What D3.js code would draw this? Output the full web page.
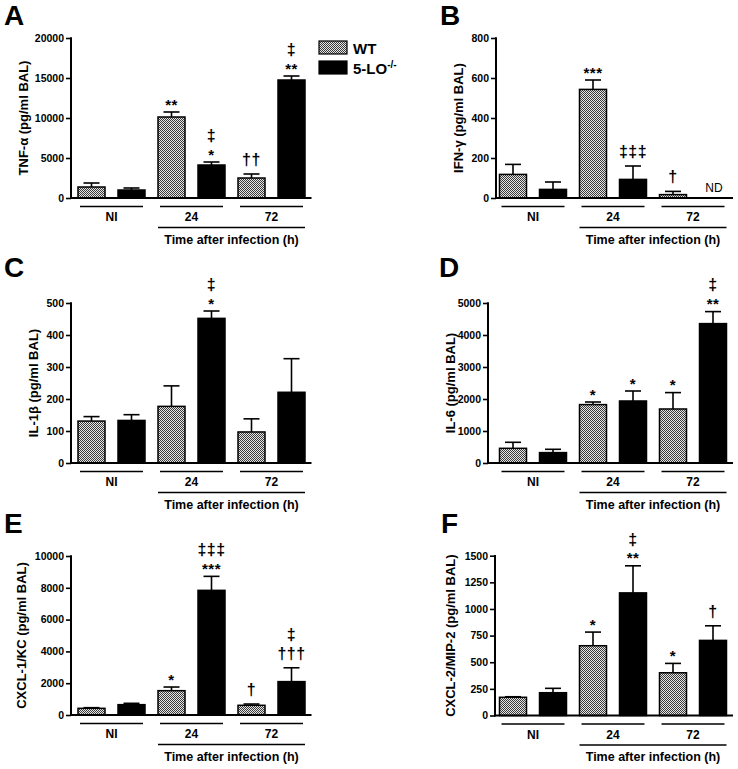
<!DOCTYPE html>
<html><head><meta charset="utf-8">
<script src="https://cdn.jsdelivr.net/npm/d3@7"></script>
<style>body{margin:0;background:#fff}svg{display:block}</style>
</head><body>
<script>
// ---------- data ----------
const groups = ["NI", "24", "72"];
const series = ["WT", "5-LO-/-"];
const xTitle = "Time after infection (h)";
// bar order: WT NI, KO NI, WT 24, KO 24, WT 72, KO 72
const tnfMean = [1375, 1000, 10125, 4125, 2500, 14750];
const tnfErr  = [500, 250, 625, 375, 500, 500];
const tnfMarks = [[], [], ["**"], ["*", "‡"], ["††"], ["**", "‡"]];
const tnfTicks = [0, 5000, 10000, 15000, 20000];

const ifnMean = [118, 43, 543, 93, 17, null];
const ifnErr  = [50, 37, 47, 67, 16, null];
const ifnMarks = [[], [], ["***"], ["‡‡‡"], ["†"], []];
const ifnTicks = [0, 200, 400, 600, 800];

const il1Mean = [131, 133, 177, 452, 97, 221];
const il1Err  = [14, 18, 64, 23, 41, 105];
const il1Marks = [[], [], [], ["*", "‡"], [], []];
const il1Ticks = [0, 100, 200, 300, 400, 500];

const il6Mean = [459, 325, 1825, 1938, 1688, 4356];
const il6Err  = [188, 103, 81, 312, 512, 375];
const il6Marks = [[], [], ["*"], ["*"], ["*"], ["**", "‡"]];
const il6Ticks = [0, 1000, 2000, 3000, 4000, 5000];

const kcMean = [420, 650, 1530, 7840, 610, 2100];
const kcErr  = [40, 85, 230, 880, 80, 870];
const kcMarks = [[], [], ["*"], ["***", "‡‡‡"], ["†"], ["†††", "‡"]];
const kcTicks = [0, 2000, 4000, 6000, 8000, 10000];

const mipMean = [171, 214, 655, 1151, 401, 705];
const mipErr  = [5, 41, 128, 254, 88, 137];
const mipMarks = [[], [], ["*"], ["**", "‡"], ["*"], ["†"]];
const mipTicks = [0, 250, 500, 750, 1000, 1250, 1500];

// ---------- layout ----------
const panels = [
  {tag:"A", yLab:"TNF-α (pg/ml BAL)", mean:tnfMean, err:tnfErr, marks:tnfMarks, ticks:tnfTicks,
   axisX:71, r0:71.5, y0:198, yTop:38, tagX:4, tagY:25, yLabX:23},
  {tag:"B", yLab:"IFN-γ (pg/ml BAL)", mean:ifnMean, err:ifnErr, marks:ifnMarks, ticks:ifnTicks,
   axisX:496, r0:493, y0:198, yTop:38, tagX:440, tagY:25, yLabX:458, nd:5},
  {tag:"C", yLab:"IL-1β (pg/ml BAL)", mean:il1Mean, err:il1Err, marks:il1Marks, ticks:il1Ticks,
   axisX:71, r0:71.5, y0:463, yTop:303, tagX:4, tagY:277, yLabX:33},
  {tag:"D", yLab:"IL-6 (pg/ml BAL)", mean:il6Mean, err:il6Err, marks:il6Marks, ticks:il6Ticks,
   axisX:488, r0:493, y0:463, yTop:303, tagX:439, tagY:277, yLabX:450},
  {tag:"E", yLab:"CXCL-1/KC (pg/ml BAL)", mean:kcMean, err:kcErr, marks:kcMarks, ticks:kcTicks,
   axisX:71, r0:71.5, y0:715, yTop:556, tagX:4, tagY:533, yLabX:21},
  {tag:"F", yLab:"CXCL-2/MIP-2 (pg/ml BAL)", mean:mipMean, err:mipErr, marks:mipMarks, ticks:mipTicks,
   axisX:495, r0:493, y0:715.5, yTop:555.7, tagX:441, tagY:533, yLabX:450}
];

const FONT = "'Liberation Sans', Arial, Helvetica, sans-serif";
const svg = d3.select("body").append("svg").attr("width", 738).attr("height", 769)
  .style("font-family", FONT);

const defs = svg.append("defs");
const pat = defs.append("pattern").attr("id", "hatch").attr("patternUnits", "userSpaceOnUse")
  .attr("width", 2).attr("height", 2);
pat.append("rect").attr("width", 2).attr("height", 2).attr("fill", "#e6e6e6");
pat.append("rect").attr("width", 1).attr("height", 1).attr("fill", "#3a3a3a");
pat.append("rect").attr("x", 1).attr("y", 1).attr("width", 1).attr("height", 1).attr("fill", "#3a3a3a");

const barIds = [];
groups.forEach(g => series.forEach(s => barIds.push(g + "|" + s)));

panels.forEach(p => {
  const g = svg.append("g");
  const x = d3.scaleBand().domain(barIds).range([p.r0, p.r0 + 240])
    .paddingInner(0.325).paddingOuter(0.1625);
  const ymax = p.ticks[p.ticks.length - 1];
  const y = d3.scaleLinear().domain([0, ymax]).range([p.y0, p.yTop]);
  const bw = x.bandwidth();

  const rows = barIds.map((id, i) => ({id, i, mean: p.mean[i], err: p.err[i], marks: p.marks[i],
    wt: i % 2 === 0}));
  const valid = rows.filter(d => d.mean !== null);

  // error bars
  valid.forEach(d => {
    const cx = x(d.id) + bw / 2;
    const yt = y(d.mean + d.err);
    g.append("line").attr("x1", cx).attr("x2", cx).attr("y1", y(d.mean)).attr("y2", yt)
      .attr("stroke", "#000").attr("stroke-width", 1.6);
    g.append("line").attr("x1", cx - 8).attr("x2", cx + 8).attr("y1", yt).attr("y2", yt)
      .attr("stroke", "#000").attr("stroke-width", 1.6);
  });

  g.selectAll("rect.bar").data(valid).join("rect").attr("class", "bar")
    .attr("x", d => x(d.id)).attr("width", bw)
    .attr("y", d => y(d.mean)).attr("height", d => p.y0 - y(d.mean))
    .attr("fill", d => d.wt ? "url(#hatch)" : "#000")
    .attr("stroke", "#000").attr("stroke-width", 1.5);

  // significance marks
  valid.forEach(d => {
    const cx = x(d.id) + bw / 2;
    let c = y(d.mean + d.err);
    let prev = null;
    d.marks.forEach(m => {
      const isStar = m.indexOf("*") >= 0;
      if (prev === null) c -= isStar ? 11 : 14;
      else c -= prev ? 15 : 19;
      const fs = isStar ? 15 : 16;
      g.append("text").attr("x", cx).attr("y", c + (isStar ? 8.6 : 4.8))
        .attr("text-anchor", "middle").attr("font-size", fs).attr("font-weight", "bold")
        .attr("letter-spacing", 0.5).text(m);
      prev = isStar;
    });
  });

  if (p.nd !== undefined) {
    g.append("text").attr("x", x(barIds[p.nd]) + bw / 2 + 1).attr("y", p.y0 - 6)
      .attr("text-anchor", "middle").attr("font-size", 12).text("ND");
  }

  // y axis
  const yAxis = d3.axisLeft(y).tickValues(p.ticks).tickSize(5).tickPadding(2).tickFormat(d3.format("d"));
  const ga = g.append("g").attr("transform", `translate(${p.axisX},0)`).call(yAxis);
  ga.select(".domain").remove();
  ga.selectAll(".tick line").attr("stroke", "#000").attr("stroke-width", 1.6);
  ga.selectAll(".tick text").attr("font-size", 10.5).attr("font-weight", "bold")
    .attr("font-family", FONT).attr("fill", "#000");
  g.append("line").attr("x1", p.axisX).attr("x2", p.axisX).attr("y1", p.yTop - 0.8).attr("y2", p.y0 + 1)
    .attr("stroke", "#000").attr("stroke-width", 2);
  g.append("line").attr("x1", p.axisX - 1).attr("x2", p.r0 + 240).attr("y1", p.y0).attr("y2", p.y0)
    .attr("stroke", "#000").attr("stroke-width", 2);

  // y label
  g.append("text").attr("transform", `translate(${p.yLabX},${(p.y0 + p.yTop) / 2}) rotate(-90)`)
    .attr("text-anchor", "middle").attr("dy", "0.35em").attr("font-size", 13).attr("font-weight", "bold")
    .text(p.yLab);

  // group lines and labels
  groups.forEach(gr => {
    const a = x(gr + "|" + series[0]) + 2, b = x(gr + "|" + series[1]) + bw - 2;
    g.append("line").attr("x1", a).attr("x2", b).attr("y1", p.y0 + 8.5).attr("y2", p.y0 + 8.5)
      .attr("stroke", "#000").attr("stroke-width", 1.4);
    g.append("text").attr("x", (a + b) / 2).attr("y", p.y0 + 23).attr("text-anchor", "middle")
      .attr("font-size", 12).attr("font-weight", "bold").text(gr);
  });
  const ta = x(groups[1] + "|" + series[0]), tb = x(groups[2] + "|" + series[1]) + bw;
  g.append("line").attr("x1", ta).attr("x2", tb).attr("y1", p.y0 + 29.5).attr("y2", p.y0 + 29.5)
    .attr("stroke", "#000").attr("stroke-width", 1.4);
  g.append("text").attr("x", (ta + tb) / 2).attr("y", p.y0 + 45.5).attr("text-anchor", "middle")
    .attr("font-size", 12.5).attr("font-weight", "bold").text(xTitle);

  // panel tag
  g.append("text").attr("x", p.tagX).attr("y", p.tagY).attr("font-size", 28).attr("font-weight", "bold")
    .text(p.tag);
});

// legend
const leg = svg.append("g");
series.forEach((s, i) => {
  const yy = 41 + i * 20;
  leg.append("rect").attr("x", 319).attr("y", yy).attr("width", 28).attr("height", 13)
    .attr("fill", i === 0 ? "url(#hatch)" : "#000").attr("stroke", "#000").attr("stroke-width", 1.2);
  const t = leg.append("text").attr("x", 353).attr("y", yy + 12.5).attr("font-size", 15).attr("font-weight", "bold");
  if (i === 0) t.text(s);
  else {
    const parts = s.split("-/-");
    t.append("tspan").text(parts[0]);
    t.append("tspan").attr("font-size", 10).attr("dy", -6).text("-/-");
  }
});
</script>
</body></html>
